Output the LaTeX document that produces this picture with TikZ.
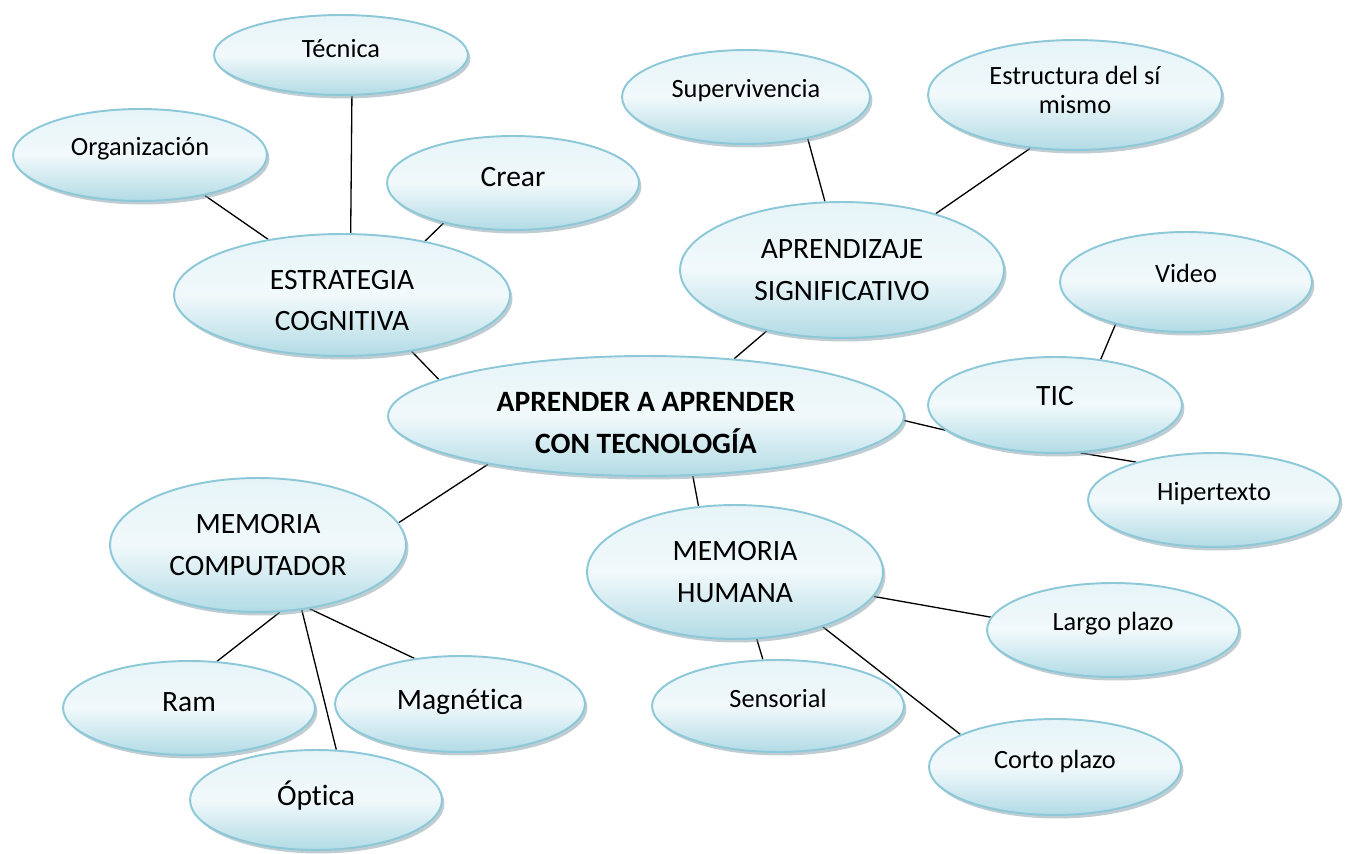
\documentclass[tikz,border=0pt]{standalone}
\usepackage{fontspec}
\setmainfont{Carlito}[Ligatures=NoCommon]
\usetikzlibrary{shapes.geometric,shadows,backgrounds}
\definecolor{bubtop}{RGB}{230,244,248}
\definecolor{bubmid}{RGB}{241,249,251}
\definecolor{bubbot}{RGB}{178,219,229}
\definecolor{bubline}{RGB}{140,200,216}
\definecolor{bubshade}{RGB}{128,155,165}

\begin{document}
\begin{tikzpicture}[x=0.02cm, y=-0.02cm,
  bub/.style={ellipse, draw=bubline, line width=1.1pt,
    top color=bubtop, bottom color=bubbot, middle color=bubmid,
    drop shadow={shadow xshift=0.05cm, shadow yshift=-0.07cm, fill=bubshade},
    inner sep=0pt, align=center},
  big/.style={font=\fontsize{16.8}{23.5}\selectfont},
  sml/.style={font=\fontsize{15}{17}\selectfont},
  one/.style={text height=9pt, text depth=#1},
  one/.default=8pt,
  rr/.style 2 args={minimum width=#1*0.04cm, minimum height=#2*0.04cm},
  link/.style={line width=0.75pt}]
  \path[use as bounding box] (0,0) rectangle (1350,854);

  \node[bub, rr={258}{60}, font=\fontsize{16.8}{23.5}\selectfont\bfseries,
    text height=42.3pt, text depth=0pt] (central) at (646,416)
    {APRENDER A APRENDER\\CON TECNOLOGÍA};

  % cognitive strategy
  \node[bub, big, rr={168}{61}, text height=40.3pt, text depth=0pt] (strat) at (342,295)
    {ESTRATEGIA\\COGNITIVA};
  \node[bub, sml, one=6pt, rr={127}{40}] (tecnica) at (341,55) {Técnica};
  \node[bub, sml, one, rr={127}{46}] (organiz) at (140,155) {Organización};
  \node[bub, big, one=5pt, rr={126}{47}] (crear) at (513,183) {Crear};

  % meaningful learning
  \node[bub, big, rr={162}{68}] (aprend) at (842,270) {APRENDIZAJE\\SIGNIFICATIVO};
  \node[bub, sml, one, rr={124}{47}] (superv) at (746,97) {Supervivencia};
  \node[bub, sml, rr={147}{55}, text height=27.5pt, text depth=6pt] (estruc) at (1075,95)
    {Estructura del sí\\mismo};

  % ICT
  \node[bub, big, one, rr={127}{48}] (tic) at (1055,405) {TIC};
  \node[bub, sml, one, rr={126}{50}] (video) at (1186,282) {Video};
  \node[bub, sml, one, rr={126}{47}] (hiper) at (1214,500) {Hipertexto};

  % human memory
  \node[bub, big, rr={148}{67}] (memhum) at (735,572) {MEMORIA\\HUMANA};
  \node[bub, sml, one, rr={126}{47}] (largo) at (1113,630) {Largo plazo};
  \node[bub, sml, one=7pt, rr={126}{46}] (sensor) at (778,706) {Sensorial};
  \node[bub, sml, one=7pt, rr={126}{48}] (corto) at (1055,767) {Corto plazo};

  % computer memory
  \node[bub, big, rr={148}{67}] (memcomp) at (258,545) {MEMORIA\\COMPUTADOR};
  \node[bub, big, one=5pt, rr={126}{47}] (ram) at (189,708) {Ram};
  \node[bub, big, one=3pt, rr={125}{48}] (magnet) at (460,704) {Magnética};
  \node[bub, big, one=3pt, rr={126}{50}] (optica) at (316,800) {Óptica};

  \begin{scope}[on background layer]
    \draw[link] (organiz.-32) -- (strat.143.5);
    \draw[link] (tecnica.-75) -- (strat.82);
    \draw[link] (crear.-150) -- (strat.33.5);
    \draw[link] (strat.-39) -- (central.170);
    \draw[link] (central.33) -- (aprend.-141);
    \draw[link] (superv.-34) -- (aprend.104);
    \draw[link] (estruc.-130) -- (aprend.31.5);
    \draw[link] (video.-149) -- (tic.45);
    \draw[link] (central.-1.5) -- (tic.-167);
    \draw[link] (tic.-62) -- (hiper.154);
    \draw[link] (central.-52) -- (memhum.119);
    \draw[link] (central.-163) -- (memcomp.9);
    \draw[link] (memhum.-10.7) -- (largo.174);
    \draw[link] (memhum.-72.5) -- (sensor.108);
    \draw[link] (memhum.-32) -- (corto.161);
    \draw[link] (memcomp.-72) -- (ram.59);
    \draw[link] (memcomp.-56) -- (optica.68);
    \draw[link] (memcomp.-51) -- (magnet.135);
  \end{scope}
\end{tikzpicture}
\end{document}
